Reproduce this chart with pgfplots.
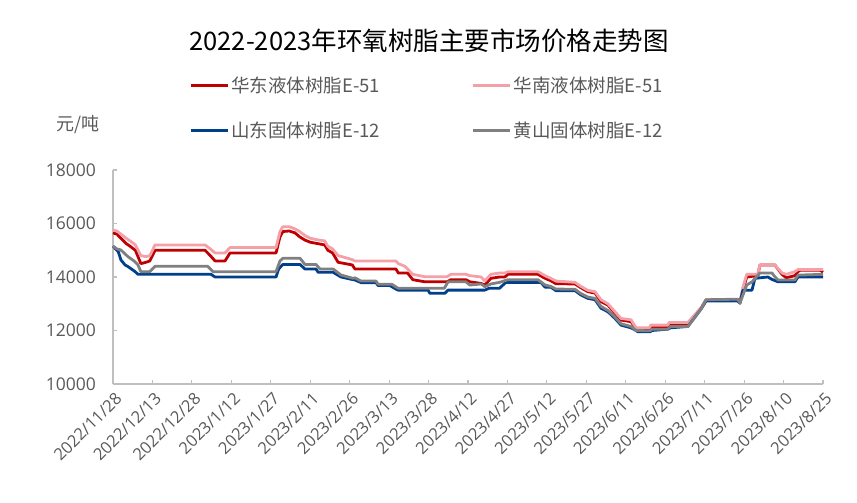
\documentclass[border=0pt]{standalone}
\usepackage{fontspec}
\setmainfont{Open Sans}
\newfontfamily\cjk{Noto Sans CJK SC}
\usepackage{pgfplots}
\pgfplotsset{compat=1.18}
\definecolor{cRed}{HTML}{C00000}
\definecolor{cPink}{HTML}{F4A0A8}
\definecolor{cBlue}{HTML}{003F8C}
\definecolor{cGray}{HTML}{808080}
\definecolor{axgray}{HTML}{BFBFBF}
\definecolor{txtgray}{HTML}{595959}
\begin{document}
\begin{tikzpicture}[x=1pt,y=1pt]
\path[use as bounding box] (0,0) rectangle (857,503);
\node[font=\fontsize{25.5}{30}\selectfont\cjk, text=black] at (429,462) {2022-2023年环氧树脂主要市场价格走势图};
\begin{axis}[
  at={(113pt,119pt)}, anchor=south west, scale only axis,
  width=710pt, height=214pt,
  xmin=0, xmax=270, ymin=10000, ymax=18000,
  clip=false,
  axis x line*=bottom, axis y line*=left,
  axis line style={axgray, line width=1.5pt},
  tick style={axgray, line width=1.2pt},
  major tick length=4pt, tick align=inside,
  ytick={10000,12000,14000,16000,18000},
  xtick={0,15,...,270},
  xticklabels={2022/11/28,2022/12/13,2022/12/28,2023/1/12,2023/1/27,2023/2/11,2023/2/26,2023/3/13,2023/3/28,2023/4/12,2023/4/27,2023/5/12,2023/5/27,2023/6/11,2023/6/26,2023/7/11,2023/7/26,2023/8/10,2023/8/25},
  xticklabel style={rotate=45, anchor=north east, font=\fontsize{16.5}{20}\selectfont, text=txtgray, inner sep=4pt, yshift=-2pt},
  yticklabel style={font=\fontsize{17.5}{21}\selectfont, text=txtgray, inner sep=9pt, xshift=-8pt},
  /pgf/number format/assume math mode=true,
  /pgf/number format/set thousands separator={},
  scaled y ticks=false,
  legend columns=2,
  legend cell align=left,
  legend style={at={(rel axis cs:0.103,1.455)}, anchor=north west, draw=none, fill=none,
    font=\fontsize{18.5}{22}\selectfont\cjk, text=txtgray,
    /tikz/every even column/.append style={column sep=90pt},
    row sep=24pt},
  legend image code/.code={\draw[#1] (0pt,0pt) -- (37pt,0pt);},
  every axis plot/.append style={line width=2.8pt, line join=round, mark=none},
]
% 华东液体树脂E-51
\addplot[cRed] coordinates {
(0,15650)(1.5,15600)(3,15450)(5,15250)(6.5,15150)(8.5,15000)(10.6,14500)(12.5,14550)(14,14600)(16,15000)
(35,15000)(37,14800)(38.8,14600)(42.6,14600)(44.5,14900)(62,14900)(63.5,15500)(64.6,15700)(67,15720)
(69.2,15650)(71,15500)(73,15380)(75,15300)(77.2,15260)(80.5,15200)(81.7,15000)(83.5,14900)(85.6,14550)
(91,14450)(92,14300)(107.6,14300)(108.5,14150)(112,14150)(114,13900)(118.6,13820)(127,13820)(128.5,13900)
(134.2,13900)(135.7,13820)(140,13760)(141.4,13700)(143.7,13950)(147,14000)(149,14000)(150.2,14100)
(161.6,14100)(164.3,13950)(166.5,13860)(168.4,13750)(175.7,13740)(177.9,13600)(180.6,13450)(183.3,13400)
(185.6,13080)(188.2,12950)(190.9,12640)(193.2,12390)(197,12330)(198.9,12080)(199.6,12020)(204,12020)
(204.5,12120)(211,12120)(211.5,12240)(218.6,12240)(223.6,12830)(225.5,13140)(237.6,13150)(238.4,13050)
(239.5,13500)(241,14000)(245.2,14050)(246,14450)(251.7,14450)(254.4,14100)(256,13970)(259.3,14050)
(260.5,14200)(261.2,14250)(269,14250)(270,14180)
};
\addlegendentry{华东液体树脂E-51}
% 华南液体树脂E-51
\addplot[cPink] coordinates {
(0,15750)(1.5,15720)(3,15600)(5,15450)(6.5,15350)(8.5,15200)(10.6,14800)(12.5,14760)(14,14800)(16,15200)
(35,15200)(37,15050)(38.8,14900)(42.6,14900)(44.5,15100)(62,15100)(63.5,15700)(64.6,15880)(67,15880)
(69.2,15800)(71,15700)(73,15550)(75,15450)(77.2,15400)(80.5,15350)(81.7,15150)(83.5,15050)(85.6,14800)
(91,14650)(92,14600)(107.6,14600)(108.5,14500)(111,14400)(114,14100)(118.6,14010)(127,14010)(128.5,14100)
(134.2,14100)(135.7,14050)(140,14000)(141.4,13850)(143.7,14100)(147,14150)(149,14150)(150.2,14200)
(161.6,14200)(164.3,14050)(166.5,13950)(168.4,13850)(175.7,13800)(177.9,13650)(180.6,13500)(183.3,13450)
(185.6,13150)(188.2,13000)(190.9,12700)(193.2,12450)(197,12400)(198.9,12100)(204,12100)(204.5,12200)
(211,12200)(211.5,12300)(218.6,12300)(223.6,12850)(225.5,13150)(237.6,13150)(238.4,13050)(239.5,13600)
(241,14100)(245.2,14100)(246,14450)(251.7,14450)(254.4,14150)(256,14100)(259.3,14200)(260.5,14280)(270,14280)
};
\addlegendentry{华南液体树脂E-51}
% 山东固体树脂E-12
\addplot[cBlue] coordinates {
(0,15150)(1.5,15000)(2,14950)(3,14640)(4.6,14450)(5.7,14390)(7,14300)(8.4,14200)(9.5,14100)(37.3,14100)
(38.8,14000)(62,14000)(63,14300)(64.6,14470)(71.1,14470)(73,14300)(77.2,14300)(78,14175)(83.7,14175)
(86.7,14000)(91.3,13900)(92,13890)(94.3,13790)(100,13790)(100.8,13680)(105.3,13680)(107,13580)(108.4,13510)
(119.8,13510)(120.5,13390)(126.2,13390)(127.4,13510)(141.4,13510)(143,13580)(147,13580)(149.4,13800)
(162.7,13800)(164.3,13620)(166.5,13620)(168.4,13490)(175.7,13490)(177.9,13330)(180.6,13200)(183.3,13150)
(185.6,12830)(188.2,12700)(190.9,12450)(193.2,12200)(197,12100)(198.9,12000)(199.6,11950)(204.2,11950)
(205,12000)(211,12050)(212,12100)(218.6,12150)(223.6,12800)(225.5,13100)(237.6,13100)(238.4,13020)
(239.5,13500)(243,13510)(244.1,13950)(249,14000)(250.6,13910)(252.9,13820)(259.3,13820)(260.5,14000)(270,14000)
};
\addlegendentry{山东固体树脂E-12}
% 黄山固体树脂E-12
\addplot[cGray] coordinates {
(0,15150)(1.5,15050)(3,15010)(5.7,14760)(8,14600)(9.5,14450)(10.6,14200)(14,14200)(16,14400)(36,14400)
(38,14200)(62,14200)(63.5,14600)(64.6,14700)(71.1,14700)(73,14470)(77.2,14470)(78.7,14300)(83.7,14300)
(86.7,14075)(91.3,13950)(92,13970)(94.3,13850)(100,13850)(100.8,13730)(106,13730)(108.4,13580)(126,13580)
(127.4,13820)(134.2,13820)(135.7,13700)(140,13740)(141.4,13640)(143.7,13740)(147,13800)(150.2,13900)
(161.6,13900)(164.3,13700)(166.5,13650)(168.4,13550)(175.7,13540)(177.9,13380)(180.6,13250)(183.3,13200)
(185.6,12900)(188.2,12750)(190.9,12500)(193.2,12250)(197,12150)(198.9,12000)(204.2,11990)(205,12050)
(211,12050)(212,12150)(218.6,12150)(223.6,12800)(225.5,13150)(237.6,13170)(238.4,13020)(241,13700)
(243,13820)(246,14150)(250.6,14150)(251.7,14010)(252.9,13890)(259.3,13890)(260.5,14070)(270,14100)
};
\addlegendentry{黄山固体树脂E-12}
\node[font=\fontsize{18}{21}\selectfont\cjk, text=txtgray] at (rel axis cs:-0.049,1.21) {元/吨};
\end{axis}
\end{tikzpicture}
\end{document}
